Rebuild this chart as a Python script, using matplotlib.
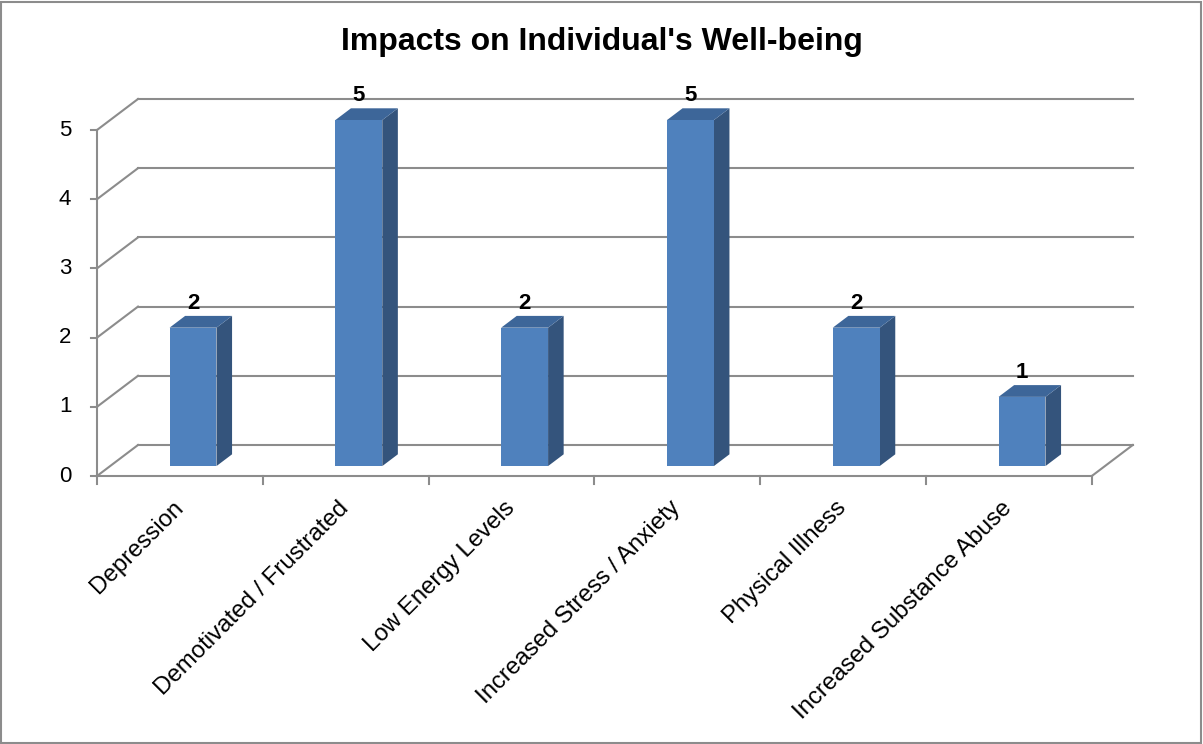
import numpy as np
import matplotlib.pyplot as plt
from matplotlib.patches import Polygon, Rectangle

plt.rcParams['font.family'] = ['Liberation Sans', 'DejaVu Sans']

categories = ['Depression', 'Demotivated / Frustrated', 'Low Energy Levels',
              'Increased Stress / Anxiety', 'Physical Illness', 'Increased Substance Abuse']
values = [2, 5, 2, 5, 2, 1]
yticks = [0, 1, 2, 3, 4, 5]

W, H = 1203, 744
fig = plt.figure(figsize=(W / 100, H / 100), dpi=100)

# pixel layout of the plot box (front-left corner at value 0)
x0_px, x1_px = 97, 1133
ytop_px, y0_px = 100, 476
n = len(categories)
cat_px = 165.8
unit_px = 69.2
dx = 41 / cat_px        # depth offset, in category units
dy = 31 / unit_px       # depth offset, in value units

ax = fig.add_axes([x0_px / W, 1 - y0_px / H, (x1_px - x0_px) / W, (y0_px - ytop_px) / H])
ax.set_xlim(0, (x1_px - x0_px) / cat_px)
ax.set_ylim(0, (y0_px - ytop_px) / unit_px)
ax.axis('off')

grid_c = '#8c8c8c'
lw = 1.5

def proj(x, y, z):
    return x + z * dx, y + z * dy

# gridlines on back wall + left side wall
for v in yticks:
    bx0, by = proj(0, v, 1)
    bx1, _ = proj(n, v, 1)
    ax.plot([bx0, bx1], [by, by], color=grid_c, lw=lw, clip_on=False, zorder=1)
    ax.plot([0, bx0], [v, by], color=grid_c, lw=lw, clip_on=False, zorder=1)

# floor front edge and right edge
ax.plot([0, n], [0, 0], color=grid_c, lw=lw, clip_on=False, zorder=1)
rx, ry = proj(n, 0, 1)
ax.plot([n, rx], [0, ry], color=grid_c, lw=lw, clip_on=False, zorder=1)

# vertical axis with ticks
ax.plot([0, 0], [0, yticks[-1]], color=grid_c, lw=lw, clip_on=False, zorder=1)
tick_w = 6 / cat_px
for v in yticks:
    ax.plot([-tick_w, 0], [v, v], color=grid_c, lw=lw, clip_on=False, zorder=1)
    ax.text(-32 / cat_px, v, str(v), ha='center', va='center', fontsize=16, color='black')

# category ticks below the floor
tick_h = 8 / unit_px
for i in range(n + 1):
    ax.plot([i, i], [0, -tick_h], color=grid_c, lw=lw, clip_on=False, zorder=1)

# 3D columns
front_c, side_c, top_c = '#4f81bd', '#34547c', '#3d6699'
bw = 0.283
z0, z1 = 0.32, 0.70
for i, v in enumerate(values):
    c = i + 0.5
    xl, xr = c - bw / 2, c + bw / 2
    fl = proj(xl, 0, z0); fr = proj(xr, 0, z0)
    tl = proj(xl, v, z0); tr = proj(xr, v, z0)
    br = proj(xr, 0, z1); btr = proj(xr, v, z1); btl = proj(xl, v, z1)
    ax.add_patch(Polygon([fr, br, btr, tr], closed=True, fc=side_c, ec='none', zorder=3, clip_on=False))
    ax.add_patch(Polygon([tl, tr, btr, btl], closed=True, fc=top_c, ec='none', zorder=3, clip_on=False))
    ax.add_patch(Polygon([fl, fr, tr, tl], closed=True, fc=front_c, ec='none', zorder=4, clip_on=False))
    lx = (fl[0] + fr[0]) / 2
    ax.text(lx, btl[1] + 2 / unit_px, str(v), ha='center', va='bottom',
            fontsize=16, fontweight='bold', color='black', zorder=5)

# rotated category labels
for i, name in enumerate(categories):
    ax.text(i + 0.5 - 8 / cat_px, -21 / unit_px, name, ha='right', va='top', rotation=45,
            rotation_mode='anchor', fontsize=17.3, color='black')

fig.text(602 / W, 1 - 42 / H, "Impacts on Individual's Well-being", ha='center', va='center',
         fontsize=23, fontweight='bold', color='black')

fig.add_artist(Rectangle((1 / W, 1 / H), (W - 3) / W, (H - 3) / H, transform=fig.transFigure,
                         fill=False, ec='#8c8c8c', lw=1.5))

fig.savefig('out.png', dpi=100, facecolor='white')
